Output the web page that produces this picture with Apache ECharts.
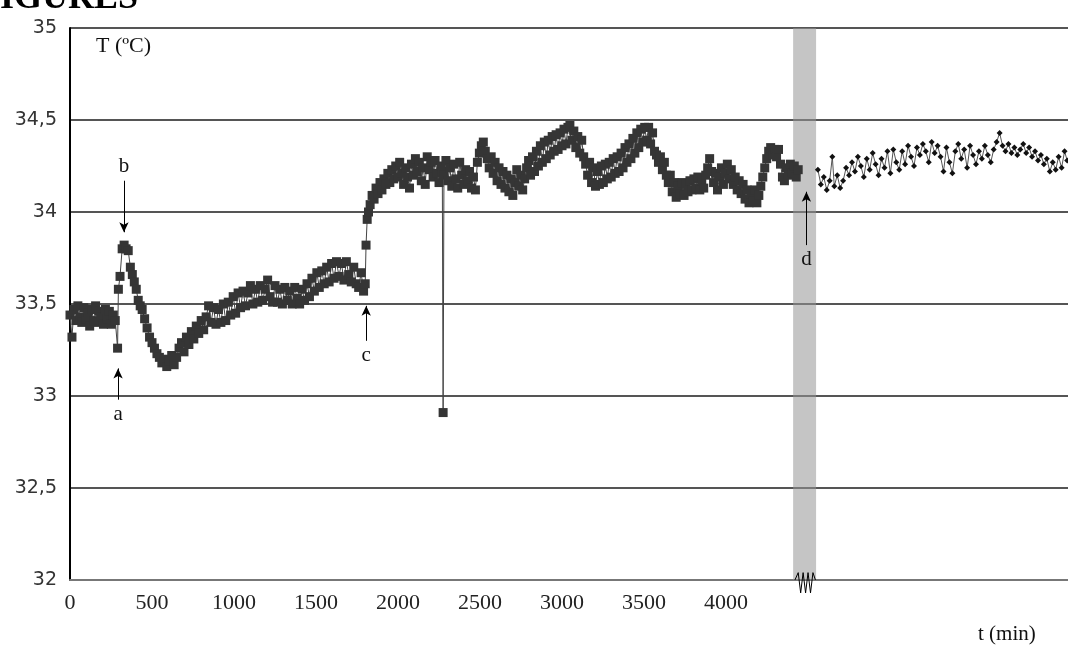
<!DOCTYPE html>
<html lang="en" style="height: 100%">
<head>
<meta charset="utf-8">
<title>T (ºC) vs t (min)</title>
</head>
<body style="height: 100%; margin: 0; background: #fff">
<div id="container" style="width: 1068px; height: 652px"></div>

<script type="text/javascript" src="https://cdn.jsdelivr.net/npm/echarts@6/dist/echarts.min.js"></script>

<script type="text/javascript">

// time (min) / temperature (ºC), before the break
var seg1 = [
    [0,33.44],[12,33.32],[24,33.47],[36,33.41],[48,33.49],[60,33.43],[72,33.40],[84,33.48],[96,33.42],[108,33.45],
    [120,33.38],[132,33.47],[144,33.41],[156,33.49],[168,33.40],[180,33.46],[192,33.43],[204,33.39],[216,33.47],[228,33.42],
    [240,33.46],[252,33.39],[264,33.44],[276,33.41],[290,33.26],[295,33.58],[305,33.65],[318,33.80],[330,33.82],[342,33.80],
    [355,33.79],[368,33.70],[380,33.66],[392,33.62],[404,33.58],[416,33.52],[428,33.49],[440,33.47],[455,33.42],[470,33.37],
    [485,33.32],[500,33.29],[515,33.26],[530,33.23],[545,33.21],[560,33.18],[575,33.20],[590,33.16],[605,33.19],[620,33.22],
    [635,33.17],[650,33.21],[665,33.26],[680,33.29],[695,33.24],[710,33.32],[725,33.28],[740,33.35],[755,33.31],[770,33.38],
    [785,33.34],[800,33.41],[815,33.36],[830,33.43],[845,33.49],[860,33.40],[875,33.48],[890,33.39],[905,33.47],[920,33.40],
    [935,33.50],[950,33.41],[965,33.51],[980,33.44],[995,33.54],[1010,33.45],[1025,33.56],[1040,33.48],[1055,33.57],[1070,33.49],
    [1085,33.56],[1100,33.60],[1115,33.50],[1130,33.58],[1145,33.51],[1160,33.60],[1175,33.52],[1190,33.58],[1205,33.63],[1220,33.54],
    [1235,33.51],[1250,33.60],[1265,33.51],[1280,33.58],[1295,33.50],[1310,33.59],[1325,33.52],[1340,33.57],[1355,33.50],[1370,33.59],
    [1385,33.53],[1400,33.50],[1415,33.58],[1430,33.52],[1445,33.61],[1460,33.54],[1475,33.64],[1490,33.57],[1505,33.67],[1520,33.59],
    [1535,33.68],[1550,33.61],[1565,33.70],[1580,33.62],[1595,33.72],[1610,33.64],[1625,33.73],[1640,33.65],[1655,33.72],[1670,33.63],
    [1685,33.73],[1700,33.66],[1715,33.62],[1730,33.70],[1745,33.61],[1760,33.59],[1775,33.67],[1790,33.57],[1800,33.61],[1805,33.82],
    [1812,33.96],[1820,34.00],[1830,34.04],[1842,34.09],[1854,34.07],[1866,34.13],[1878,34.10],[1890,34.16],[1902,34.12],[1914,34.18],
    [1926,34.15],[1938,34.21],[1950,34.16],[1962,34.23],[1974,34.18],[1986,34.25],[1998,34.19],[2010,34.27],[2022,34.21],[2034,34.15],
    [2046,34.24],[2058,34.19],[2070,34.13],[2082,34.26],[2094,34.20],[2106,34.29],[2118,34.22],[2130,34.27],[2142,34.17],[2154,34.24],
    [2166,34.15],[2178,34.30],[2190,34.23],[2202,34.27],[2214,34.19],[2226,34.28],[2238,34.21],[2250,34.16],[2262,34.25],[2270,34.22],
    [2275,32.91],[2280,34.20],[2292,34.28],[2304,34.17],[2316,34.24],[2328,34.14],[2340,34.26],[2352,34.18],[2364,34.13],[2376,34.27],
    [2388,34.20],[2400,34.15],[2412,34.23],[2424,34.17],[2436,34.22],[2448,34.13],[2460,34.19],[2472,34.12],[2484,34.27],[2496,34.32],
    [2508,34.36],[2520,34.38],[2532,34.33],[2544,34.29],[2556,34.24],[2568,34.30],[2580,34.21],[2592,34.27],[2604,34.17],[2616,34.24],
    [2628,34.15],[2640,34.22],[2652,34.13],[2664,34.20],[2676,34.11],[2688,34.18],[2700,34.09],[2712,34.16],[2724,34.23],[2736,34.14],
    [2748,34.20],[2760,34.12],[2772,34.18],[2784,34.24],[2796,34.28],[2808,34.20],[2820,34.30],[2832,34.22],[2844,34.33],[2856,34.25],
    [2868,34.36],[2880,34.27],[2892,34.38],[2904,34.29],[2916,34.39],[2928,34.31],[2940,34.41],[2952,34.33],[2964,34.42],[2976,34.34],
    [2988,34.43],[3000,34.36],[3012,34.45],[3024,34.37],[3036,34.46],[3048,34.47],[3060,34.39],[3072,34.44],[3084,34.35],[3096,34.41],
    [3108,34.32],[3120,34.39],[3132,34.30],[3144,34.26],[3156,34.20],[3168,34.27],[3180,34.16],[3192,34.24],[3204,34.14],[3216,34.22],
    [3228,34.15],[3240,34.25],[3252,34.16],[3264,34.26],[3276,34.18],[3288,34.27],[3300,34.19],[3312,34.29],[3324,34.21],[3336,34.30],
    [3348,34.22],[3360,34.32],[3372,34.24],[3384,34.35],[3396,34.27],[3408,34.37],[3420,34.29],[3432,34.40],[3444,34.32],[3456,34.43],
    [3468,34.35],[3480,34.45],[3492,34.38],[3504,34.46],[3516,34.39],[3528,34.46],[3540,34.37],[3552,34.43],[3564,34.33],[3576,34.31],
    [3588,34.27],[3600,34.30],[3612,34.23],[3624,34.27],[3636,34.20],[3648,34.16],[3660,34.20],[3672,34.11],[3684,34.16],[3696,34.08],
    [3708,34.14],[3720,34.10],[3732,34.16],[3744,34.09],[3756,34.15],[3768,34.11],[3780,34.17],[3792,34.12],[3804,34.18],[3816,34.13],
    [3828,34.19],[3840,34.12],[3852,34.17],[3864,34.13],[3876,34.20],[3888,34.24],[3900,34.29],[3912,34.22],[3924,34.16],[3936,34.21],
    [3948,34.12],[3960,34.19],[3972,34.24],[3984,34.15],[3996,34.21],[4008,34.26],[4020,34.18],[4032,34.23],[4044,34.15],[4056,34.19],
    [4068,34.12],[4080,34.17],[4092,34.10],[4104,34.15],[4116,34.07],[4128,34.12],[4140,34.05],[4152,34.10],[4164,34.06],[4176,34.12],
    [4188,34.05],[4200,34.09],[4212,34.14],[4224,34.19],[4236,34.24],[4248,34.29],[4260,34.33],[4272,34.35],[4284,34.31],[4296,34.34],
    [4308,34.30],[4320,34.34],[4332,34.26],[4344,34.19],[4356,34.17],[4368,34.24],[4380,34.20],[4392,34.26],[4404,34.21],[4416,34.25],
    [4428,34.19],[4440,34.23]
];

// after the break
var seg2 = [
    [4560,34.23],[4578,34.15],[4596,34.19],[4614,34.12],[4632,34.17],[4648,34.30],[4660,34.14],[4678,34.20],[4696,34.13],[4714,34.17],
    [4732,34.24],[4750,34.20],[4768,34.27],[4786,34.22],[4804,34.30],[4822,34.25],[4840,34.19],[4858,34.29],[4876,34.23],[4894,34.32],
    [4912,34.26],[4930,34.20],[4948,34.29],[4966,34.24],[4984,34.33],[5002,34.21],[5020,34.34],[5038,34.27],[5056,34.23],[5074,34.33],
    [5092,34.26],[5110,34.36],[5128,34.30],[5146,34.25],[5164,34.35],[5182,34.31],[5200,34.37],[5218,34.33],[5236,34.27],[5254,34.38],
    [5272,34.32],[5290,34.36],[5308,34.30],[5326,34.22],[5344,34.35],[5362,34.27],[5380,34.21],[5398,34.33],[5416,34.37],[5434,34.29],
    [5452,34.34],[5470,34.24],[5488,34.36],[5506,34.31],[5524,34.26],[5542,34.33],[5560,34.29],[5578,34.36],[5596,34.31],[5614,34.27],
    [5632,34.34],[5650,34.38],[5668,34.43],[5686,34.36],[5704,34.33],[5722,34.37],[5740,34.32],[5758,34.35],[5776,34.31],[5794,34.34],
    [5812,34.37],[5830,34.32],[5848,34.35],[5866,34.30],[5884,34.33],[5902,34.28],[5920,34.31],[5938,34.26],[5956,34.29],[5974,34.22],
    [5992,34.27],[6010,34.23],[6028,34.30],[6046,34.24],[6064,34.33],[6080,34.28]
];

// break band and the zigzag on the time axis
var breakBand = [4409, 4549];
var breakZigzag = [
    [4420,32.0],[4440,32.04],[4455,31.93],[4470,32.04],[4485,31.93],[4500,32.04],[4515,31.93],[4530,32.04],[4545,32.0]
];

// event arrows: label, time, tail T, head T
var notes = [
    ['a', 293, 32.98, 33.15],
    ['b', 329, 34.17, 33.89],
    ['c', 1806, 33.30, 33.49],
    ['d', 4490, 33.82, 34.11]
];

var dom = document.getElementById('container');
var myChart = echarts.init(dom);

var serif = '"Liberation Serif", "Times New Roman", serif';

var noteLines = notes.map(function (n) {
    return [
        { coord: [n[1], n[2]], symbol: 'none', label: { formatter: n[0] } },
        { coord: [n[1], n[3]], symbol: 'arrow', symbolSize: [7, 10] }
    ];
});

var option = {
    animation: false,
    backgroundColor: '#fff',
    grid: { left: 70, right: 0, top: 28, bottom: 72, outerBoundsMode: 'none' },
    graphic: [
        { type: 'text', x: -22, y: 17, style: { text: 'FIGURES', font: 'bold 36px ' + serif, fill: '#000', textVerticalAlign: 'bottom' } },
        { type: 'text', x: 96, y: 35, style: { text: 'T (ºC)', font: '22px ' + serif, fill: '#111' } },
        { type: 'text', x: 978, y: 624, style: { text: 't (min)', font: '21px ' + serif, fill: '#111' } }
    ],
    xAxis: {
        type: 'value',
        min: 0,
        max: 6085,
        interval: 500,
        axisLine: { show: true, lineStyle: { color: '#777', width: 2 } },
        axisTick: { show: false },
        splitLine: { show: false },
        axisLabel: {
            margin: 12,
            color: '#222',
            fontFamily: serif,
            fontSize: 22,
            showMaxLabel: false,
            formatter: function (v) { return v <= 4000 ? String(v) : ''; }
        }
    },
    yAxis: {
        type: 'value',
        min: 32,
        max: 35,
        interval: 0.5,
        axisLine: { show: true, lineStyle: { color: '#000', width: 2 } },
        axisTick: { show: false },
        splitLine: { show: true, lineStyle: { color: '#555', width: 2 } },
        axisLabel: {
            margin: 13,
            color: '#333',
            fontFamily: '"DejaVu Sans", sans-serif',
            fontSize: 19,
            formatter: function (v) { return String(v).replace('.', ','); }
        }
    },
    series: [
        {
            name: 'before',
            type: 'line',
            data: seg1,
            symbol: 'rect',
            symbolSize: 9,
            itemStyle: { color: '#353535' },
            lineStyle: { color: '#444', width: 1 },
            markArea: {
                silent: true,
                itemStyle: { color: 'rgba(150,150,150,0.55)' },
                data: [[{ xAxis: breakBand[0] }, { xAxis: breakBand[1] }]]
            },
            markLine: {
                silent: true,
                lineStyle: { color: '#000', width: 1, type: 'solid' },
                label: { show: true, position: 'start', distance: 4, color: '#111', fontFamily: serif, fontSize: 21 },
                data: noteLines
            }
        },
        {
            name: 'after',
            type: 'line',
            data: seg2,
            symbol: 'diamond',
            symbolSize: 6,
            itemStyle: { color: '#111' },
            lineStyle: { color: '#555', width: 1 }
        },
        {
            name: 'break',
            type: 'line',
            data: breakZigzag,
            symbol: 'none',
            clip: false,
            lineStyle: { color: '#000', width: 1 }
        }
    ]
};

myChart.setOption(option);
window.addEventListener('resize', myChart.resize);
</script>
</body>
</html>
